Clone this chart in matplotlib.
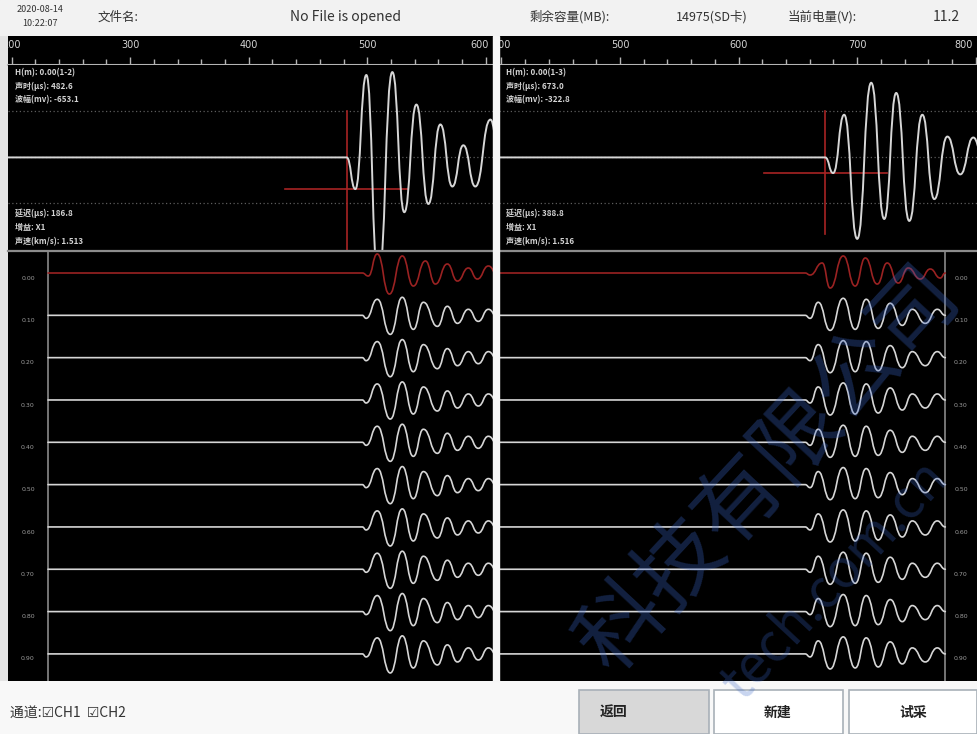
import matplotlib
matplotlib.use('Agg')
import numpy as np
import matplotlib.pyplot as plt
from matplotlib.patches import Rectangle, PathPatch
from matplotlib.path import Path

plt.rcParams['font.family'] = ['Noto Sans CJK SC', 'DejaVu Sans']

W, H = 977, 734

# ---- values ----
pairs = ['1-2', '1-3']
depth_h = [0.00, 0.00]
arrival_us = [482.6, 673.0]
amp_mv = [-653.1, -322.8]
delay_us = [186.8, 388.8]
gain = ['X1', 'X1']
speed_kms = [1.513, 1.516]

x_range_l = (197, 606)
x_range_r = (398, 801)
major_l = [200, 300, 400, 500, 600]
major_r = [400, 500, 600, 700, 800]

# top waveform (time us, amplitude mV)
wave_l_t = [197, 482.6, 489.9, 499.2, 509.3, 521.1, 531.2, 541.4, 551.5, 561.6, 571.7, 581.0, 591.1, 603.8, 610]
wave_l_a = [0, 0, -653.1, 1700, -2600, 1760, -1130, 1090, -960, 680, -600, 250, -600, 780, 300]
wave_r_t = [398, 673.0, 679.7, 689.0, 700.0, 711.8, 722.8, 732.9, 743.9, 754.9, 765.0, 776.0, 786.9, 797.9, 805]
wave_r_a = [0, 0, -322.8, 880, -1680, 1540, -1270, 1330, -1310, 880, -860, 430, -350, 410, 100]

# cursor lines (time half width, amplitude span)
cursor_half = 52
cursor_top = [950, 950]
cursor_bottom = [-1930, -1580]

depths = [0.00, 0.10, 0.20, 0.30, 0.40, 0.50, 0.60, 0.70, 0.80, 0.90]

# lower traces: first row (red) and other rows (white), time us / relative amplitude
low_l_red_t = [495.8, 500.8, 508.4, 518.6, 529.5, 538.8, 549.0, 557.4, 567.5, 576.0, 585.2, 592.8, 602.1, 610]
low_l_red_a = [0, -3, 19, -21, 17, -13, 12, -11, 9, -8, 5, -6, 7, -2]
low_l_t = [495.8, 499.0, 508.4, 519.4, 529.5, 538.8, 547.3, 559.1, 567.5, 576.0, 585.2, 593.6, 602.1, 610]
low_l_a = [0, -3, 16, -19, 18, -14, 13, -11, 9, -8, 6, -6, 6, -2]
low_r_red_t = [656.1, 660.3, 670.5, 677.2, 688.2, 698.3, 706.8, 716.9, 725.3, 734.6, 743.0, 753.2, 761.6, 770.0, 774.3]
low_r_red_a = [0, -2, 10, -15, 17, -13, 15, -11, 10, -10, 5, -6, 4, -5, 0]
low_r_t = [656.1, 660.3, 667.1, 677.2, 688.2, 698.3, 707.6, 717.7, 727.8, 738.0, 746.4, 757.4, 767.5, 774.3]
low_r_a = [0, -3, 13, -15, 17, -14, 16, -13, 12, -10, 6, -8, 6, 0]

# ---- style ----
bg = '#000000'
txt = '#d4d4d4'
ruler = '#b4b4b4'
grid_c = '#5c5c5c'
trace_w = '#d6d6d6'
trace_red = '#9a2222'
cur_red = '#a82424'
trace_scale = 0.1 / 42.2

fig = plt.figure(figsize=(W / 100, H / 100), dpi=100)
fig.patch.set_facecolor('#e4e4e4')


def px_axes(x0, y0, x1, y1):
    return fig.add_axes([x0 / W, 1 - y1 / H, (x1 - x0) / W, (y1 - y0) / H])


def wave(ax, xs, ys, color, lw):
    # smooth curve through the read points, flat at each peak
    verts = [(xs[0], ys[0])]
    codes = [Path.MOVETO]
    for k in range(1, len(xs)):
        h = (xs[k] - xs[k - 1]) / 2
        verts += [(xs[k - 1] + h, ys[k - 1]), (xs[k] - h, ys[k]), (xs[k], ys[k])]
        codes += [Path.CURVE4] * 3
    ax.add_patch(PathPatch(Path(verts, codes), facecolor='none', edgecolor=color,
                           lw=lw, zorder=3, capstyle='round', joinstyle='round'))


# white divider between the two channels
fig.patches.append(Rectangle((493 / W, 1 - 681 / H), 6 / W, 645 / H,
                             transform=fig.transFigure, color='#f6f6f6', zorder=0))

sides = [
    dict(x0=8, x1=493, xr=x_range_l, major=major_l, wt=wave_l_t, wa=wave_l_a,
         rt=low_l_red_t, ra=low_l_red_a, lt=low_l_t, la=low_l_a, col=(40 / 485), lab_left=True),
    dict(x0=499, x1=977, xr=x_range_r, major=major_r, wt=wave_r_t, wa=wave_r_a,
         rt=low_r_red_t, ra=low_r_red_a, lt=low_r_t, la=low_r_a, col=(446 / 478), lab_left=False),
]

for i, s in enumerate(sides):
    xr = s['xr']
    # ruler
    axr = px_axes(s['x0'], 36, s['x1'], 65)
    axr.set_facecolor(bg)
    axr.set_xlim(xr)
    axr.set_ylim(0, 1)
    for sp in ['top', 'left', 'right']:
        axr.spines[sp].set_visible(False)
    axr.spines['bottom'].set_color(ruler)
    axr.spines['bottom'].set_linewidth(1.5)
    axr.set_yticks([])
    axr.set_xticks(s['major'])
    axr.set_xticks(np.arange(s['major'][0], xr[1], 20), minor=True)
    axr.tick_params(axis='x', which='both', direction='in', color=ruler, labelbottom=False)
    axr.tick_params(axis='x', which='major', length=6, width=1)
    axr.tick_params(axis='x', which='minor', length=4, width=1)
    for m in s['major']:
        if xr[1] - m < 15:
            axr.text(xr[1] - 4, 0.68, str(m), ha='right', va='center', color=txt,
                     fontsize=7, clip_on=True, family='DejaVu Sans')
        else:
            axr.text(m, 0.68, str(m), ha='center', va='center', color=txt,
                     fontsize=7, clip_on=True, family='DejaVu Sans')

    # top waveform
    axw = px_axes(s['x0'], 65, s['x1'], 251)
    axw.set_facecolor(bg)
    axw.set_xlim(xr)
    axw.set_ylim(-1930, 1906)
    axw.set_xticks([])
    axw.set_yticks([])
    for sp in axw.spines.values():
        sp.set_visible(False)
    for g in [950, 0, -950]:
        axw.axhline(g, color=grid_c, lw=0.9, ls=(0, (1, 2)), zorder=1)
    axw.plot([arrival_us[i], arrival_us[i]], [cursor_top[i], cursor_bottom[i]],
             color=cur_red, lw=1.2, zorder=2)
    axw.plot([arrival_us[i] - cursor_half, arrival_us[i] + cursor_half], [amp_mv[i], amp_mv[i]],
             color=cur_red, lw=1.2, zorder=2)
    wave(axw, s['wt'], s['wa'], trace_w, 1.4)

    info_top = [f'H(m): {depth_h[i]:.2f}({pairs[i]})', f'声时(μs): {arrival_us[i]:.1f}',
                f'波幅(mv): {amp_mv[i]:.1f}']
    info_bot = [f'延迟(μs): {delay_us[i]:.1f}', f'增益: {gain[i]}', f'声速(km/s): {speed_kms[i]:.3f}']
    w_px = s['x1'] - s['x0']
    for k, t in enumerate(info_top):
        axw.text(7 / w_px, 1 - (8 + 13.5 * k) / 186, t, transform=axw.transAxes,
                 color=txt, fontsize=5.8, va='center', ha='left', weight='bold')
    for k, t in enumerate(info_bot):
        axw.text(7 / w_px, 1 - (148 + 14.5 * k) / 186, t, transform=axw.transAxes,
                 color=txt, fontsize=5.8, va='center', ha='left', weight='bold')

    # lower traces
    axl = px_axes(s['x0'], 251, s['x1'], 681)
    axl.set_facecolor(bg)
    axl.set_xlim(xr)
    axl.set_ylim(0.964, -0.052)
    axl.set_xticks([])
    axl.set_yticks([])
    for sp in ['bottom', 'left', 'right']:
        axl.spines[sp].set_visible(False)
    axl.spines['top'].set_color('#8c8c8c')
    axl.spines['top'].set_linewidth(1.6)
    col = s['col']
    axl.plot([col, col], [0, 1], transform=axl.transAxes, color='#8a8a8a', lw=1.2)
    t_col = xr[0] + col * (xr[1] - xr[0])
    for j, d in enumerate(depths):
        if j == 0:
            tt, aa, c = s['rt'], s['ra'], trace_red
        else:
            tt, aa, c = s['lt'], s['la'], trace_w
        if s['lab_left']:
            xs = [t_col] + tt
            lx = col / 2
        else:
            xs = [xr[0]] + tt
            lx = col + (1 - col) / 2
        ys = [0] + aa
        wave(axl, xs, [d - a * trace_scale for a in ys], c, 1.2)
        axl.text(lx, d + 0.012, f'{d:.2f}', transform=axl.get_yaxis_transform(),
                 color='#9c9c9c', fontsize=4.5, ha='center', va='center', family='DejaVu Sans')

# ---- top status bar ----
axt = px_axes(0, 0, W, 36)
axt.set_xlim(0, W)
axt.set_ylim(36, 0)
axt.axis('off')
axt.add_patch(Rectangle((0, 0), W, 36, color='#f2f2f2'))
axt.text(40, 10, '2020-08-14', ha='center', va='center', fontsize=6.5, color='#333333')
axt.text(40, 24, '10:22:07', ha='center', va='center', fontsize=6.5, color='#333333')
axt.text(118, 17, '文件名:', ha='center', va='center', fontsize=9, color='#333333')
axt.text(345, 17, 'No File is opened', ha='center', va='center', fontsize=10, color='#333333')
axt.text(570, 17, '剩余容量(MB):', ha='center', va='center', fontsize=9, color='#333333')
axt.text(712, 17, '14975(SD卡)', ha='center', va='center', fontsize=9, color='#333333')
axt.text(822, 17, '当前电量(V):', ha='center', va='center', fontsize=9, color='#333333')
axt.text(946, 17, '11.2', ha='center', va='center', fontsize=10, color='#333333')

# ---- bottom bar ----
axb = px_axes(0, 681, W, H)
axb.set_xlim(0, W)
axb.set_ylim(H, 681)
axb.axis('off')
axb.add_patch(Rectangle((0, 681), W, H - 681, color='#f8f8f8'))
axb.text(10, 713, '通道:☑CH1  ☑CH2', ha='left', va='center', fontsize=10, color='#333333')
buttons = [('返回', 579, 709, '#d8d8d8', 614), ('新建', 714, 843, '#ffffff', 778), ('试采', 849, 977, '#ffffff', 913)]
for lab, bx0, bx1, fc, tx in buttons:
    axb.add_patch(Rectangle((bx0, 690), bx1 - bx0, H - 690, facecolor=fc, edgecolor='#a8b0b8', lw=1.2))
    axb.text(tx, 713, lab, ha='center', va='center', fontsize=10, weight='bold', color='#222222')

# ---- watermark ----
fig.text(770 / W, 1 - 470 / H, '科技有限公司', rotation=47, color='#3a66c8', alpha=0.32,
         fontsize=62, ha='center', va='center', zorder=20)
fig.text(835 / W, 1 - 580 / H, 'tech.com.cn', rotation=47, color='#3a66c8', alpha=0.28,
         fontsize=38, ha='center', va='center', zorder=20)

fig.savefig('out.png', dpi=100, facecolor=fig.get_facecolor())
